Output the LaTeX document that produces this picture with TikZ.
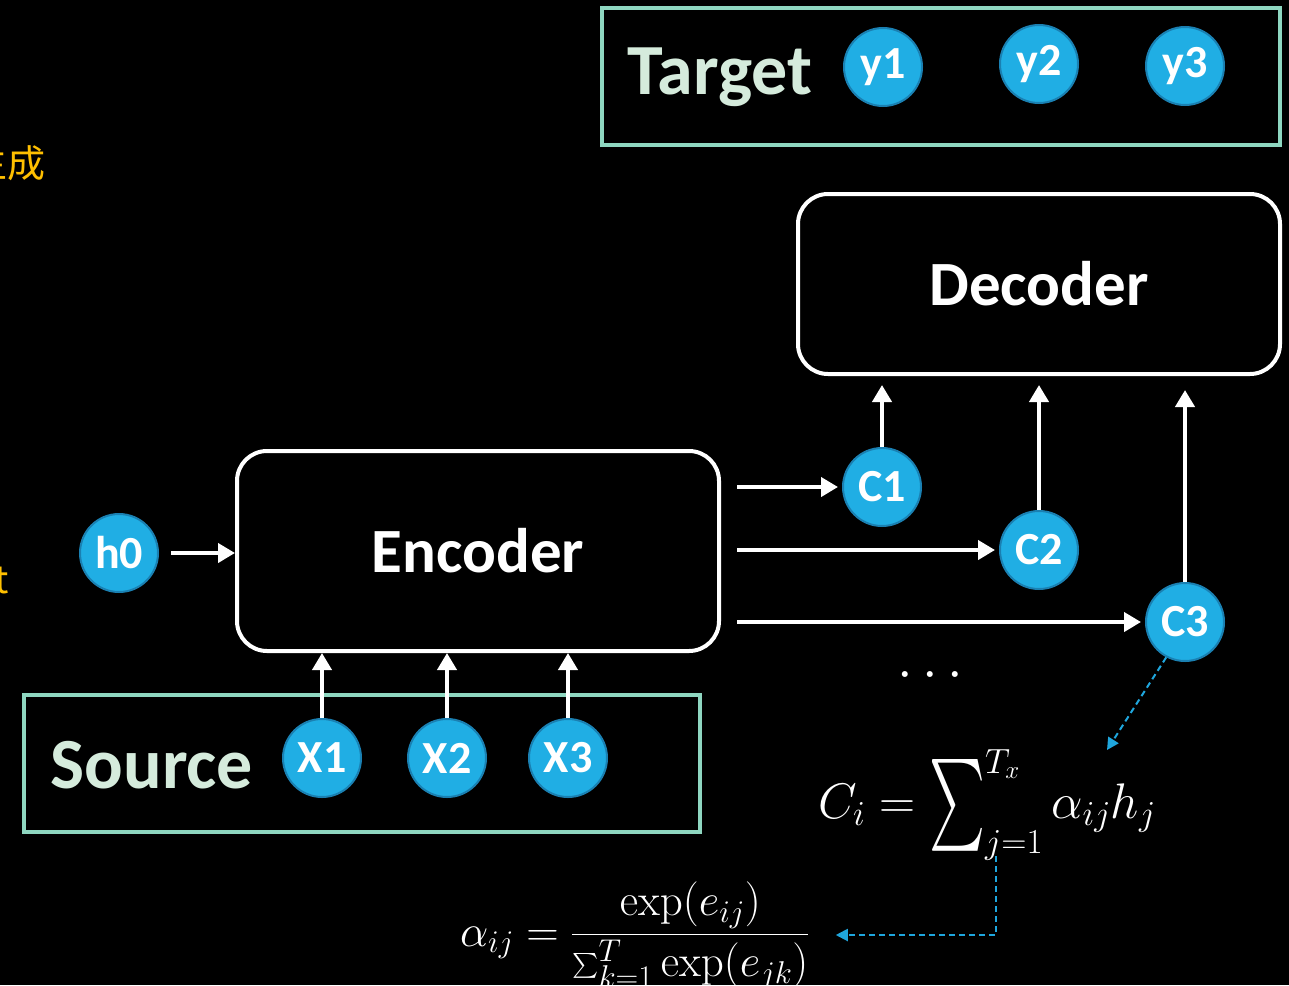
\RequirePackage{fix-cm}
\documentclass[tikz,border=0pt]{standalone}
\usepackage{exscale}
\usepackage[no-math]{fontspec}
\newfontfamily\lab{Carlito}
\newfontfamily\cjk{Noto Sans CJK SC}
\usetikzlibrary{arrows.meta}
\definecolor{tokfill}{HTML}{20AEE4}
\definecolor{tokedge}{HTML}{1A80B2}
\definecolor{framecol}{HTML}{8ED6C0}
\definecolor{pale}{HTML}{D5EBDC}
\definecolor{note}{HTML}{FFC000}
\definecolor{dashblue}{HTML}{1FA6DD}
% a tall, narrow summation sign
\newcommand{\tallsum}{\mathop{\vcenter{\hbox{\resizebox{56pt}{92pt}{$\textstyle\sum$}}}}}
\tikzset{
  tok/.style={circle, fill=tokfill, draw=tokedge, line width=2pt, minimum size=78pt,
    inner sep=0pt, text=white, font=\lab\bfseries\fontsize{46}{46}\selectfont},
  block/.style={draw=white, line width=4pt, rounded corners=30pt, text=white,
    font=\lab\bfseries\fontsize{63}{63}\selectfont},
  framebox/.style={draw=framecol, line width=4pt, inner sep=0pt},
  title/.style={text=pale, font=\lab\bfseries\fontsize{72}{72}\selectfont},
  arr/.style={draw=white, line width=4pt, -{Triangle[length=17pt,width=19pt]}},
  dasharr/.style={draw=dashblue, line width=2pt, dash pattern=on 6pt off 4pt,
    -{Triangle[length=12pt,width=12pt]}},
  formula/.style={text=white, inner sep=0pt},
  cut/.style={text=note, font=\cjk\fontsize{38}{38}\selectfont},
}
\begin{document}
\begin{tikzpicture}[x=1pt,y=-1pt]
\useasboundingbox (0,0) rectangle (1289,985);
\fill[black] (0,0) rectangle (1289,985);
\clip (0,0) rectangle (1289,985);

% text running in from the left edge
\node[cut, anchor=east] (lt1) at (49,163) {生成};
\node[cut, anchor=east] (lt2) at (12,581) {t};

% frames for source and target sequences
\node[framebox, minimum width=676pt, minimum height=137pt] (sbox) at (362,763.5) {};
\node[framebox, minimum width=678pt, minimum height=137pt] (tbox) at (941,76.5) {};
\node[title] (src) at (152,765) {Source};
\node[title] (tgt) at (720,77) {Target};

% encoder and decoder
\node[block, minimum width=482pt, minimum height=200pt] (enc) at (478,551) {Encoder};
\node[block, minimum width=482pt, minimum height=180pt] (dec) at (1039,284) {Decoder};

% tokens
\node[tok] (h0) at (119,553) {h0};
\node[tok] (x1) at (322,758) {X1};
\node[tok] (x2) at (447,758) {X2};
\node[tok] (x3) at (568,758) {X3};
\node[tok] (y1) at (883,67) {y1};
\node[tok] (y2) at (1039,64) {y2};
\node[tok] (y3) at (1185,66) {y3};
\node[tok] (c1) at (882,487) {C1};
\node[tok] (c2) at (1039,550) {C2};
\node[tok] (c3) at (1185,622) {C3};

% flow arrows
\draw[arr, shorten <=12pt] (h0) -- (enc.west |- h0);
\draw[arr] (x1) -- (x1 |- enc.south);
\draw[arr] (x2) -- (x2 |- enc.south);
\draw[arr] (x3) -- (x3 |- enc.south);
\draw[arr, shorten <=16pt, shorten >=4pt] (enc.east |- c1) -- (c1);
\draw[arr, shorten <=16pt, shorten >=4pt] (enc.east |- c2) -- (c2);
\draw[arr, shorten <=16pt, shorten >=4pt] (enc.east |- c3) -- (c3);
\draw[arr, shorten >=9pt] (c1) -- (c1 |- dec.south);
\draw[arr, shorten >=9pt] (c2) -- (c2 |- dec.south);
\draw[arr, shorten >=14pt] (c3) -- (c3 |- dec.south);

\node[text=white, font=\fontsize{56}{56}\selectfont] (dots) at (930,676) {$\cdots$};

% attention formulas
\node[formula, anchor=base west, font=\fontsize{50}{60}\selectfont] (ci) at (818,818)
  {$C_i = \tallsum\nolimits_{j=1}^{T_x} \alpha_{ij}h_j$};
\node[formula, anchor=base west, font=\fontsize{45}{52}\selectfont] (al) at (460,946)
  {$\displaystyle \alpha_{ij} = \frac{\exp(e_{ij})}{\sum_{k=1}^{T}\exp(e_{jk})}$};

\coordinate (ctip) at (1107,750);
\coordinate (cfoot) at (996,856);
\draw[dasharr] (c3.-118) -- (ctip);
\draw[dasharr] (cfoot) |- ([xshift=26pt]al.east |- 0,935);
\end{tikzpicture}
\end{document}
